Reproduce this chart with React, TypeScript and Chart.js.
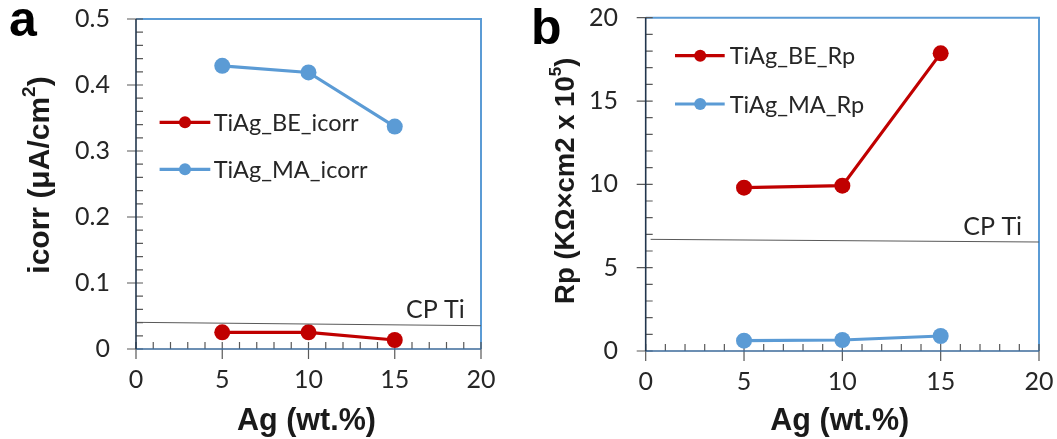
import React, { useEffect, useRef } from "react";
import { Chart, registerables } from "chart.js";

Chart.register(...registerables);

// ---------- data ----------
const agLevels = [5, 10, 15];
const icorrBE = [0.0253, 0.0253, 0.0136];
const icorrMA = [0.429, 0.419, 0.337];
const cpTiIcorrX = [0, 20];
const cpTiIcorr = [0.0404, 0.0353];
const rpBE = [9.8, 9.92, 17.86];
const rpMA = [0.62, 0.66, 0.9];
const cpTiRpX = [0.25, 20];
const cpTiRp = [6.7, 6.54];
const xTickValues = [0, 5, 10, 15, 20];
const icorrTickValues = [0, 0.1, 0.2, 0.3, 0.4, 0.5];
const rpTickValues = [0, 5, 10, 15, 20];
const icorrLabels = ["TiAg_BE_icorr", "TiAg_MA_icorr"];
const rpLabels = ["TiAg_BE_Rp", "TiAg_MA_Rp"];
const cpTiLabel = "CP Ti";
const xTitle = "Ag (wt.%)";

const RED = "#C00000";
const BLUE = "#5B9BD5";
const TEXT = "#262626";
const TICK_FONT = "Lato";
const TITLE_FONT = "'Liberation Sans', Arial, sans-serif";

type Part = { t: string; sup?: boolean };

type Panel = {
  left: number;
  width: number;
  letter: string;
  letterX: number;
  letterY: number;
  padTop: number;
  padRight: number;
  yWidth: number;
  xHeight: number;
  yMax: number;
  yTicks: number[];
  yMinor: number;
  yTickGap: number;
  series: { label: string; color: string; values: number[] }[];
  cpX: number[];
  cpY: number[];
  cpLabelX: number;
  cpLabelY: number;
  legendLine: [number, number];
  legendMarker: number;
  legendTextX: number;
  legendRows: number[];
  yTitle: Part[];
  yTitleSize: number;
  yTitleX: number;
  yTitleY: number;
  xTitleX: number;
  xTitleY: number;
};

const panels: Panel[] = [
  {
    left: 0,
    width: 530,
    letter: "a",
    letterX: 9,
    letterY: 36,
    padTop: 19,
    padRight: 49,
    yWidth: 136,
    xHeight: 90,
    yMax: 0.5,
    yTicks: icorrTickValues,
    yMinor: 0.02,
    yTickGap: 26,
    series: [
      { label: icorrLabels[0], color: RED, values: icorrBE },
      { label: icorrLabels[1], color: BLUE, values: icorrMA },
    ],
    cpX: cpTiIcorrX,
    cpY: cpTiIcorr,
    cpLabelX: 406,
    cpLabelY: 318,
    legendLine: [159.6, 210.3],
    legendMarker: 185,
    legendTextX: 213.7,
    legendRows: [122.3, 169.3],
    yTitle: [{ t: "icorr (μA/cm" }, { t: "2", sup: true }, { t: ")" }],
    yTitleSize: 30,
    yTitleX: 40.8,
    yTitleY: 175,
    xTitleX: 306.5,
    xTitleY: 430,
  },
  {
    left: 530,
    width: 527,
    letter: "b",
    letterX: 1,
    letterY: 44,
    padTop: 17.7,
    padRight: 18,
    yWidth: 115.7,
    xHeight: 88,
    yMax: 20,
    yTicks: rpTickValues,
    yMinor: 1,
    yTickGap: 27.7,
    series: [
      { label: rpLabels[0], color: RED, values: rpBE },
      { label: rpLabels[1], color: BLUE, values: rpMA },
    ],
    cpX: cpTiRpX,
    cpY: cpTiRp,
    cpLabelX: 433.3,
    cpLabelY: 235,
    legendLine: [145, 194.7],
    legendMarker: 170.2,
    legendTextX: 199.7,
    legendRows: [55.7, 104],
    yTitle: [{ t: "Rp (KΩ×cm2 x 10" }, { t: "5", sup: true }, { t: ")" }],
    yTitleSize: 27.5,
    yTitleX: 36.7,
    yTitleY: 180.8,
    xTitleX: 309.8,
    xTitleY: 430,
  },
];

function drawRich(ctx: CanvasRenderingContext2D, parts: Part[], size: number) {
  const main = `bold ${size}px ${TITLE_FONT}`;
  const sup = `bold ${Math.round(size * 0.62)}px ${TITLE_FONT}`;
  let total = 0;
  const widths = parts.map((p) => {
    ctx.font = p.sup ? sup : main;
    const w = ctx.measureText(p.t).width;
    total += w;
    return w;
  });
  let x = -total / 2;
  parts.forEach((p, i) => {
    ctx.font = p.sup ? sup : main;
    ctx.fillText(p.t, x, p.sup ? -size * 0.36 : 0);
    x += widths[i];
  });
}

function makePlugin(p: Panel) {
  return {
    id: "decor" + p.letter,
    beforeDatasetsDraw(chart: any) {
      const ctx = chart.ctx as CanvasRenderingContext2D;
      const { left, right, top, bottom } = chart.chartArea;
      const xs = chart.scales.x;
      const ys = chart.scales.y;
      ctx.save();
      // blue frame
      ctx.strokeStyle = BLUE;
      ctx.lineWidth = 2;
      ctx.beginPath();
      ctx.moveTo(left, top);
      ctx.lineTo(right, top);
      ctx.lineTo(right, bottom);
      ctx.stroke();
      // ticks
      ctx.strokeStyle = "#595959";
      ctx.lineWidth = 1.2;
      ctx.beginPath();
      for (let v = 0; v <= 20 + 1e-9; v += 1) {
        const px = xs.getPixelForValue(v);
        const major = Math.abs(v % 5) < 1e-9;
        ctx.moveTo(px, bottom - 7);
        ctx.lineTo(px, major ? bottom + 10 : bottom);
      }
      const n = Math.round(p.yMax / p.yMinor);
      for (let i = 0; i <= n; i++) {
        const v = i * p.yMinor;
        const py = ys.getPixelForValue(v);
        const major = p.yTicks.some((t) => Math.abs(t - v) < 1e-9);
        ctx.moveTo(major ? left - 9 : left, py);
        ctx.lineTo(left + 7, py);
      }
      ctx.stroke();
      // axis lines
      ctx.lineWidth = 1.6;
      ctx.strokeStyle = "#3B6A9A";
      ctx.beginPath();
      ctx.moveTo(left, bottom);
      ctx.lineTo(right, bottom);
      ctx.stroke();
      ctx.strokeStyle = "#22364d";
      ctx.beginPath();
      ctx.moveTo(left, top);
      ctx.lineTo(left, bottom);
      ctx.stroke();
      ctx.restore();
    },
    afterDraw(chart: any) {
      const ctx = chart.ctx as CanvasRenderingContext2D;
      ctx.save();
      // legend
      p.series.forEach((s, i) => {
        const y = p.legendRows[i];
        ctx.strokeStyle = s.color;
        ctx.lineWidth = 3.2;
        ctx.beginPath();
        ctx.moveTo(p.legendLine[0], y);
        ctx.lineTo(p.legendLine[1], y);
        ctx.stroke();
        ctx.fillStyle = s.color;
        ctx.beginPath();
        ctx.arc(p.legendMarker, y, 6, 0, Math.PI * 2);
        ctx.fill();
        ctx.fillStyle = TEXT;
        ctx.font = `23.5px ${TICK_FONT}`;
        ctx.textAlign = "left";
        ctx.textBaseline = "middle";
        ctx.fillText(s.label, p.legendTextX, y + 1);
      });
      // CP Ti label
      ctx.fillStyle = TEXT;
      ctx.font = `25px ${TICK_FONT}`;
      ctx.textAlign = "left";
      ctx.textBaseline = "alphabetic";
      ctx.fillText(cpTiLabel, p.cpLabelX, p.cpLabelY);
      // panel letter
      ctx.fillStyle = "#000";
      ctx.font = `bold 50px ${TITLE_FONT}`;
      ctx.fillText(p.letter, p.letterX, p.letterY);
      // x title
      ctx.fillStyle = "#1a1a1a";
      ctx.font = `bold 30.5px ${TITLE_FONT}`;
      ctx.textAlign = "center";
      ctx.fillText(xTitle, p.xTitleX, p.xTitleY);
      // y title
      ctx.translate(p.yTitleX, p.yTitleY);
      ctx.rotate(-Math.PI / 2);
      ctx.textAlign = "left";
      ctx.textBaseline = "middle";
      drawRich(ctx, p.yTitle, p.yTitleSize);
      ctx.restore();
    },
  };
}

function PanelChart({ p }: { p: Panel }) {
  const ref = useRef<HTMLCanvasElement | null>(null);
  useEffect(() => {
    if (!ref.current) return;
    const tickFont = { family: TICK_FONT, size: 25 };
    const datasets: any[] = [
      {
        label: cpTiLabel,
        data: p.cpX.map((x, i) => ({ x, y: p.cpY[i] })),
        borderColor: "#595959",
        borderWidth: 1,
        pointRadius: 0,
        fill: false,
      },
      ...p.series.map((s) => ({
        label: s.label,
        data: agLevels.map((x, i) => ({ x, y: s.values[i] })),
        borderColor: s.color,
        backgroundColor: s.color,
        pointBackgroundColor: s.color,
        pointBorderColor: s.color,
        borderWidth: 3.2,
        pointRadius: 8,
        pointBorderWidth: 0,
        fill: false,
      })),
    ];
    const hiddenGrid = (len: number) => ({
      display: true,
      drawOnChartArea: false,
      drawTicks: true,
      tickLength: len,
      color: "rgba(0,0,0,0)",
      tickColor: "rgba(0,0,0,0)",
    });
    const chart = new Chart(ref.current, {
      type: "line",
      data: { datasets },
      plugins: [makePlugin(p)],
      options: {
        animation: false,
        responsive: false,
        events: [],
        layout: { autoPadding: false, padding: { top: p.padTop, right: p.padRight, left: 0, bottom: 0 } },
        plugins: { legend: { display: false }, tooltip: { enabled: false } },
        scales: {
          x: {
            type: "linear",
            min: 0,
            max: 20,
            afterBuildTicks: (s: any) => {
              s.ticks = xTickValues.map((v) => ({ value: v }));
            },
            afterFit: (s: any) => {
              s.height = p.xHeight;
            },
            ticks: { font: tickFont, color: TEXT, padding: 0, maxRotation: 0, autoSkip: false },
            grid: hiddenGrid(16),
            border: { display: false },
          },
          y: {
            type: "linear",
            min: 0,
            max: p.yMax,
            afterBuildTicks: (s: any) => {
              s.ticks = p.yTicks.map((v) => ({ value: v }));
            },
            afterFit: (s: any) => {
              s.width = p.yWidth;
            },
            ticks: { font: tickFont, color: TEXT, padding: 0, autoSkip: false },
            grid: hiddenGrid(p.yTickGap),
            border: { display: false },
          },
        },
      } as any,
    });
    return () => chart.destroy();
  }, [p]);
  return (
    <canvas
      ref={ref}
      width={p.width}
      height={439}
      style={{ position: "absolute", left: p.left, top: 0, width: p.width, height: 439, display: "block" }}
    />
  );
}

export default function App() {
  return (
    <div style={{ position: "absolute", left: 0, top: 0, width: 1057, height: 439, background: "#fff" }}>
      {panels.map((p) => (
        <PanelChart key={p.letter} p={p} />
      ))}
    </div>
  );
}
